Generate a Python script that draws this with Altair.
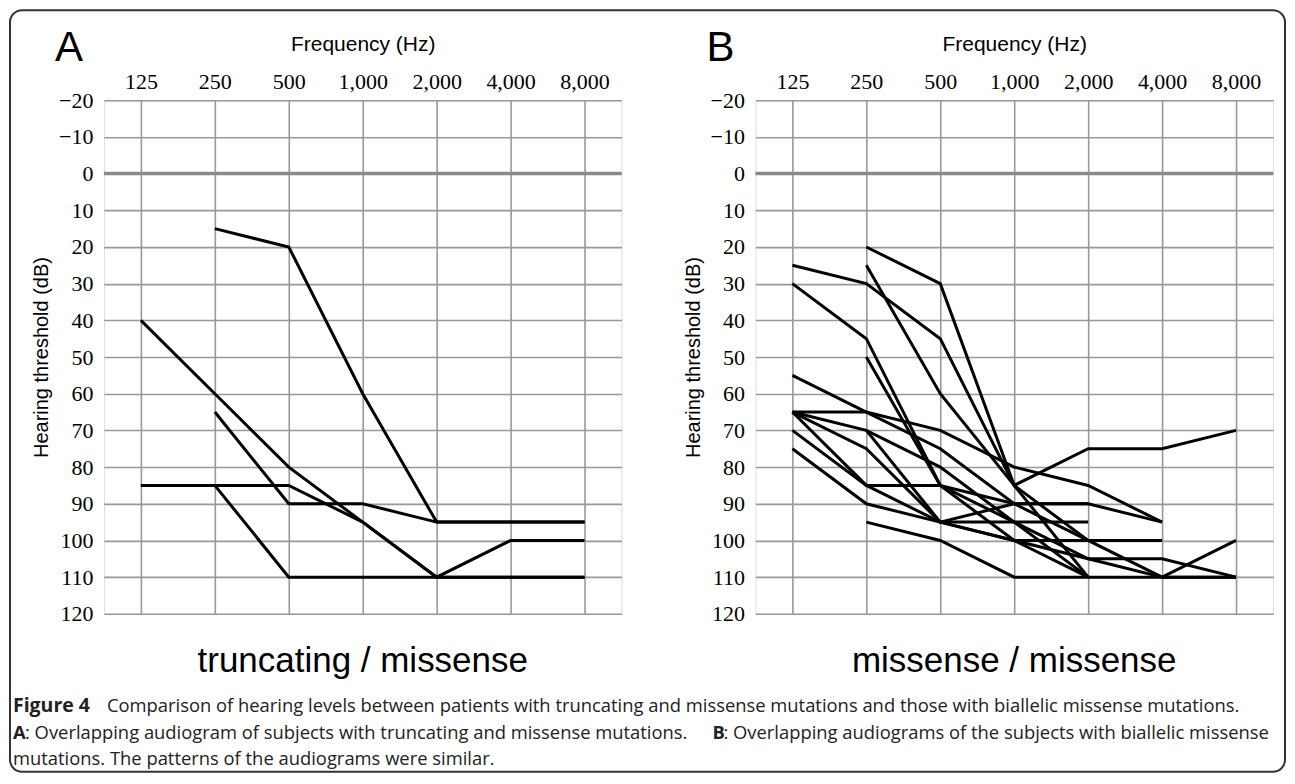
import altair as alt
import pandas as pd
import math

freqs = [125, 250, 500, 1000, 2000, 4000, 8000]
db_ticks = list(range(-20, 121, 10))

# Panel A: truncating / missense
a1 = [None, 15, 20, 60, 95, 95, 95]
a2 = [40, 60, 80, 95, 110, 100, 100]
a3 = [None, 65, 90, 90, 95, 95, 95]
a4 = [85, 85, 85, 95, 110, 110, 110]
a5 = [85, 85, 110, 110, 110, 110, 110]

# Panel B: missense / missense
b1 = [25, 30, 45, 85, 100, 110, 110]
b2 = [30, 45, 85, 95, 110, None, None]
b3 = [None, 20, 30, 85, 75, 75, 70]
b4 = [None, 25, 60, 85, 110, None, None]
b5 = [None, 50, 85, 100, 110, None, None]
b6 = [55, 65, 75, 90, 100, 100, None]
b7 = [65, 65, 70, 80, 85, 95, None]
b8 = [65, 70, 80, 95, 105, 105, 110]
b9 = [65, 85, 85, 90, 90, 95, None]
b10 = [65, 75, 95, 95, 95, None, None]
b11 = [70, 85, 95, 100, 105, 110, 100]
b12 = [75, 90, 95, 100, 100, None, None]
b13 = [None, 95, 100, 110, 110, 110, 110]
b14 = [None, 70, 95, 90, 90, None, None]

series_a = {"a1": a1, "a2": a2, "a3": a3, "a4": a4, "a5": a5}
series_b = {"b1": b1, "b2": b2, "b3": b3, "b4": b4, "b5": b5, "b6": b6, "b7": b7,
            "b8": b8, "b9": b9, "b10": b10, "b11": b11, "b12": b12, "b13": b13, "b14": b14}


def long_df(series):
    rows = []
    for k, vals in series.items():
        for f, v in zip(freqs, vals):
            if v is not None:
                rows.append({"id": k, "freq": f, "db": v})
    return pd.DataFrame(rows)


W, H = 518, 514
SERIF = "Liberation Serif"
SANS = "Liberation Sans"
CAPFONT = "Open Sans"
GRID = "#999999"
FRAME = "#8a8a8a"

xscale = alt.Scale(type="log", base=2, domain=[125 / math.sqrt(2), 8000 * math.sqrt(2)], nice=False, zero=False)
yscale = alt.Scale(domain=[-20, 120], reverse=True, nice=False, zero=False)

xaxis = alt.Axis(orient="top", values=freqs, format=",", title="Frequency (Hz)",
                 labelFont=SERIF, labelFontSize=22, labelColor="black", labelPadding=7,
                 titleFont=SANS, titleFontSize=21, titleFontWeight="normal", titleColor="black",
                 titlePadding=16, ticks=False, domain=False, grid=True, gridColor=GRID,
                 gridWidth=1.6, gridOpacity=1, labelFlush=False, labelOverlap=False)
yaxis = alt.Axis(values=db_ticks, tickCount=15, title="Hearing threshold (dB)",
                 labelFont=SERIF, labelFontSize=22, labelColor="black", labelPadding=11,
                 titleFont=SANS, titleFontSize=20, titleFontWeight="normal", titleColor="black",
                 titlePadding=7, ticks=False, domain=False, grid=True, gridColor=GRID,
                 gridWidth=1.6, gridOpacity=1, labelFlush=False, labelOverlap=False)


def panel(series, letter, subtitle, extra=None):
    df = long_df(series)
    lines = alt.Chart(df).mark_line(color="black", strokeWidth=3).encode(
        x=alt.X("freq:Q", scale=xscale, axis=xaxis),
        y=alt.Y("db:Q", scale=yscale, axis=yaxis),
        detail="id:N",
        order="freq:Q",
    )
    zero = alt.Chart(pd.DataFrame({"v": [0]})).mark_rule(color=FRAME, strokeWidth=3.5).encode(
        y=alt.Y("v:Q", scale=yscale, axis=yaxis))
    lab = alt.Chart(pd.DataFrame({"t": [letter]})).mark_text(
        font=SANS, fontSize=42, align="left", baseline="alphabetic", color="black").encode(
        text="t:N", x=alt.value(-49), y=alt.value(-39))
    sub = alt.Chart(pd.DataFrame({"t": [subtitle]})).mark_text(
        font=SANS, fontSize=35, align="center", baseline="alphabetic", color="black").encode(
        text="t:N", x=alt.value(W / 2), y=alt.value(572))
    layers = [zero, lines, lab, sub]
    if extra:
        layers += extra
    return alt.layer(*layers).properties(width=W, height=H)


CAP = "#222222"
CAPFS = 18.4
cap_rows = [
    ("Figure 4", True, 19.5, -91, 612),
    ("Comparison of hearing levels between patients with truncating and missense mutations and those with biallelic missense mutations.", False, CAPFS, 3, 612),
    ("A", True, CAPFS, -91, 639),
    (": Overlapping audiogram of subjects with truncating and missense mutations.", False, CAPFS, -79, 639),
    ("B", True, CAPFS, 609, 639),
    (": Overlapping audiograms of the subjects with biallelic missense", False, CAPFS, 620, 639),
    ("mutations. The patterns of the audiograms were similar.", False, CAPFS, -91, 665),
]
cap_layers = []
for txt, bold, fs, x, y in cap_rows:
    cap_layers.append(
        alt.Chart(pd.DataFrame({"t": [txt]})).mark_text(
            font=CAPFONT, fontSize=fs, fontWeight="bold" if bold else "normal",
            align="left", baseline="alphabetic", color=CAP).encode(
            text="t:N", x=alt.value(x), y=alt.value(y)))

border = alt.Chart(pd.DataFrame({"k": [0]})).mark_rect(
    fillOpacity=0, stroke="#333333", strokeWidth=2, cornerRadius=12).encode(
    x=alt.value(-94), x2=alt.value(1182), y=alt.value(-90), y2=alt.value(672))

pa = panel(series_a, "A", "truncating / missense", [border] + cap_layers)
pb = panel(series_b, "B", "missense / missense")

chart = alt.hconcat(pa, pb, spacing=134, bounds="flush").properties(padding=0).configure_view(
    stroke=FRAME, strokeWidth=3.5).configure(background="white")

chart.save("out.html", embed_options={"renderer": "svg", "actions": False})
